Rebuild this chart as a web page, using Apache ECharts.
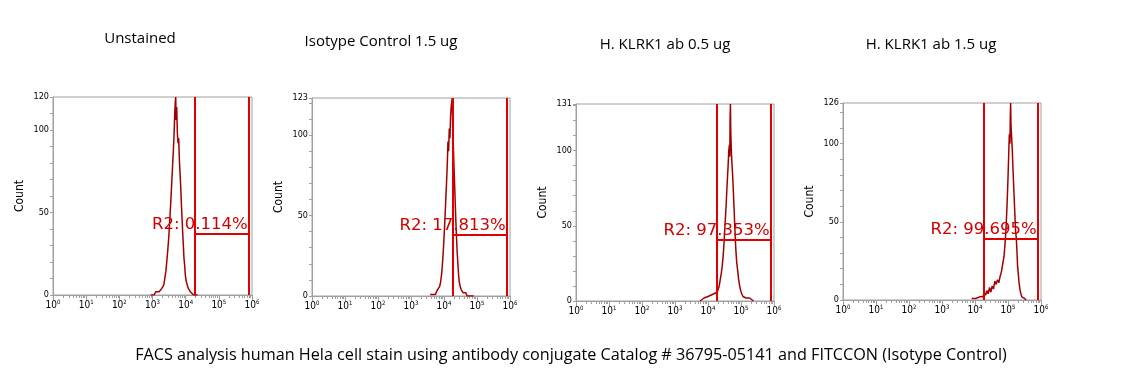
<!DOCTYPE html>
<html><head><meta charset="utf-8">
<script src="https://cdn.jsdelivr.net/npm/echarts@6/dist/echarts.min.js"></script>
<style>html,body{margin:0;padding:0;background:#fff}#c{width:1139px;height:392px}</style>
</head><body><div id="c"></div>
<script>
// ---------------- data ----------------
const panelTitles = ['Unstained', 'Isotype Control 1.5 ug', 'H. KLRK1 ab 0.5 ug', 'H. KLRK1 ab 1.5 ug'];
const caption = 'FACS analysis human Hela cell stain using antibody conjugate Catalog # 36795-05141 and FITCCON (Isotype Control)';
const yMax = [120, 123, 131, 126];
const gateName = 'R2';
const gatePercent = ['0.114%', '17.813%', '97.353%', '99.695%'];
const gateLeft = [19000, 18200, 18600, 18200];
const gateRight = [794000, 794000, 794000, 794000];
const gateLevel = [37, 38, 40.5, 39];
const xMajorTicks = [1, 10, 100, 1000, 10000, 100000, 1000000];
const xMinorMultipliers = [2, 3, 4, 5, 6, 7, 8, 9];

// histogram channels: log10 of fluorescence intensity, and counts
const unstainedExp = [2.95,3.00,3.05,3.10,3.15,3.20,3.25,3.28,3.31,3.34,3.37,3.40,3.43,3.46,3.49,3.52,3.55,3.58,3.61,3.63,3.65,3.67,3.69,3.70,3.71,3.73,3.75,3.77,3.79,3.81,3.83,3.85,3.87,3.89,3.91,3.93,3.95,3.97,3.99,4.02,4.05,4.08,4.11,4.14,4.17,4.20,4.24,4.28,4.32,4.36];
const unstainedCount = [0,1,0,2,1,2,1,4,3,6,10,14,20,27,35,45,56,68,80,88,97,110,118,120,106,114,98,92,95,82,74,66,56,47,38,30,22,18,12,8,6,4,3,2,1,2,0,1,0,0];

const isotypeExp = [3.58,3.62,3.66,3.70,3.74,3.78,3.81,3.84,3.87,3.90,3.93,3.96,3.99,4.02,4.05,4.08,4.10,4.12,4.14,4.16,4.18,4.20,4.22,4.24,4.25,4.26,4.28,4.30,4.32,4.34,4.36,4.38,4.40,4.42,4.44,4.46,4.49,4.52,4.55,4.58,4.62,4.66,4.70,4.75,4.80,4.85,4.90];
const isotypeCount = [1,0,1,2,1,3,2,4,6,9,14,22,32,44,58,72,82,96,90,104,98,112,118,121,123,110,96,82,70,58,46,36,27,20,14,9,6,4,3,2,1,2,0,1,0,1,0];

const klrk05Exp = [3.76,3.82,3.88,3.94,4.00,4.05,4.10,4.15,4.20,4.24,4.28,4.31,4.34,4.37,4.40,4.43,4.46,4.49,4.52,4.55,4.58,4.61,4.63,4.65,4.66,4.67,4.68,4.69,4.71,4.73,4.75,4.77,4.79,4.81,4.83,4.85,4.87,4.90,4.93,4.96,4.99,5.02,5.06,5.10,5.15,5.20,5.26,5.32,5.38];
const klrk05Count = [0,1,2,1,3,2,4,3,5,4,6,8,10,14,18,23,30,40,52,64,78,90,100,104,96,122,131,112,98,90,82,72,62,50,40,32,26,20,14,10,7,5,3,4,2,1,2,1,0];

const klrk15Exp = [3.90,3.96,4.02,4.08,4.14,4.20,4.24,4.28,4.32,4.36,4.40,4.44,4.48,4.52,4.56,4.60,4.64,4.68,4.72,4.76,4.80,4.84,4.88,4.91,4.94,4.97,5.00,5.02,5.04,5.06,5.07,5.08,5.09,5.11,5.13,5.15,5.17,5.19,5.21,5.23,5.25,5.27,5.29,5.31,5.33,5.36,5.39,5.42,5.46,5.50,5.55];
const klrk15Count = [1,0,1,0,2,3,2,5,3,6,4,8,5,9,7,12,10,13,11,15,18,19,28,36,46,60,78,92,106,100,118,126,112,104,96,84,74,64,54,44,40,32,22,17,12,7,4,2,1,1,0];

const histExp = [unstainedExp, isotypeExp, klrk05Exp, klrk15Exp];
const histCount = [unstainedCount, isotypeCount, klrk05Count, klrk15Count];

// ---------------- layout ----------------
const grids = [
  {left: 53, top: 97, width: 199, height: 198},
  {left: 312, top: 98, width: 198, height: 198},
  {left: 576, top: 104, width: 198, height: 197},
  {left: 843, top: 103, width: 198, height: 197}
];
const titlePos = [[140, 39], [381, 42], [665, 45], [931, 45]];
const narrow = '"Liberation Sans Narrow", "DejaVu Sans Condensed", "Liberation Sans", sans-serif';
const axisGray = '#a0a0a0';

// minor tick positions, expressed in decades for a linear helper axis aligned with the log axis
const xMinorTickDecades = [];
xMajorTicks.slice(0, -1).forEach(d => xMinorMultipliers.forEach(m => xMinorTickDecades.push(Math.log10(d * m))));

const option = {
  animation: false,
  backgroundColor: '#fff',
  grid: grids.map(g => Object.assign({show: true, borderColor: axisGray, borderWidth: 1, backgroundColor: '#fff'}, g)),
  xAxis: [],
  yAxis: [],
  series: [],
  graphic: []
};

grids.forEach((g, i) => {
  option.xAxis.push({
    type: 'log', logBase: 10, min: 1, max: 1000000, gridIndex: i,
    axisLine: {lineStyle: {color: axisGray, width: 1}},
    axisTick: {show: true, length: 5, lineStyle: {color: axisGray}},
    splitLine: {show: false},
    axisLabel: {
      color: '#000', margin: 4, fontFamily: narrow, fontSize: 10,
      formatter: v => '10{s|' + Math.round(Math.log10(v)) + '}',
      rich: {s: {fontSize: 6, fontFamily: narrow, verticalAlign: 'top', lineHeight: 12, color: '#000'}}
    }
  });
  option.xAxis.push({
    type: 'value', min: 0, max: 6, gridIndex: i, position: 'bottom',
    axisLine: {show: false},
    axisTick: {show: true, length: 3, customValues: xMinorTickDecades, lineStyle: {color: axisGray}},
    axisLabel: {show: false},
    splitLine: {show: false}
  });
  option.yAxis.push({
    type: 'value', min: 0, max: yMax[i], interval: 10, gridIndex: i,
    name: 'Count', nameLocation: 'middle', nameGap: 27,
    nameTextStyle: {fontFamily: narrow, fontSize: 12, color: '#000'},
    axisLine: {show: true, lineStyle: {color: axisGray}},
    axisTick: {show: true, length: 3, lineStyle: {color: axisGray}},
    splitLine: {show: false},
    axisLabel: {
      color: '#000', fontFamily: narrow, fontSize: 9, margin: 4, showMaxLabel: true, interval: 0,
      formatter: v => (v % 50 === 0 || v === yMax[i]) ? String(v) : ''
    }
  });
  const data = histExp[i].map((e, k) => [Math.pow(10, e), histCount[i][k]]);
  option.series.push({
    type: 'line', xAxisIndex: 2 * i, yAxisIndex: i, data: data,
    showSymbol: false, symbol: 'none',
    lineStyle: {color: '#a00000', width: 1.5},
    z: 2,
    markLine: {
      silent: true, symbol: 'none', animation: false, precision: 6,
      lineStyle: {color: '#e00000', width: 2, type: 'solid'},
      label: {show: false},
      data: [
        {xAxis: gateLeft[i]},
        {xAxis: gateRight[i]},
        [
          {coord: [gateLeft[i], gateLevel[i]]},
          {coord: [gateRight[i], gateLevel[i]],
           label: {show: true, position: 'insideEndTop', distance: 1,
                   formatter: gateName + ': ' + gatePercent[i],
                   color: '#d00000', fontFamily: '"DejaVu Sans", Verdana, sans-serif', fontSize: 16.5}}
        ]
      ]
    }
  });
  option.graphic.push({
    type: 'text', x: titlePos[i][0], y: titlePos[i][1],
    style: {text: panelTitles[i], fontFamily: '"Open Sans", sans-serif', fontSize: 15, fill: '#000',
            textAlign: 'center', textVerticalAlign: 'middle'}
  });
});
option.graphic.push({
  type: 'text', x: 571, y: 355,
  style: {text: caption, fontFamily: '"Open Sans", sans-serif', fontSize: 16.2, fill: '#000',
          textAlign: 'center', textVerticalAlign: 'middle'}
});

const chart = echarts.init(document.getElementById('c'), null, {renderer: 'canvas'});
chart.setOption(option);
</script>
</body></html>
